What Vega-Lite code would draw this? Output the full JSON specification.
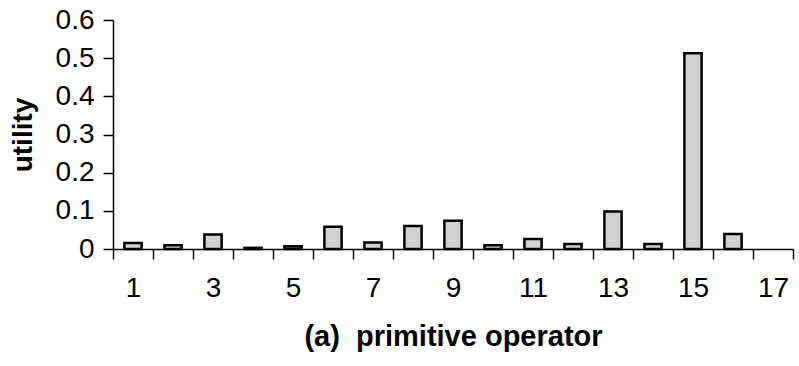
{
  "$schema": "https://vega.github.io/schema/vega-lite/v6.json",
  "autosize": "none",
  "width": 680,
  "height": 229,
  "padding": {"left": 113, "top": 20, "right": 6, "bottom": 117},
  "background": "white",
  "data": {
    "values": [
      {"operator": 1, "utility": 0.016},
      {"operator": 2, "utility": 0.010},
      {"operator": 3, "utility": 0.038},
      {"operator": 4, "utility": 0.003},
      {"operator": 5, "utility": 0.007},
      {"operator": 6, "utility": 0.058},
      {"operator": 7, "utility": 0.017},
      {"operator": 8, "utility": 0.060},
      {"operator": 9, "utility": 0.074},
      {"operator": 10, "utility": 0.010},
      {"operator": 11, "utility": 0.026},
      {"operator": 12, "utility": 0.013},
      {"operator": 13, "utility": 0.098},
      {"operator": 14, "utility": 0.013},
      {"operator": 15, "utility": 0.513},
      {"operator": 16, "utility": 0.039},
      {"operator": 17, "utility": 0}
    ]
  },
  "mark": {"type": "bar", "width": {"band": 0.43}, "fill": "#d2d2d2", "stroke": "black", "strokeWidth": 2.5},
  "encoding": {
    "x": {
      "field": "operator",
      "type": "ordinal",
      "scale": {"paddingInner": 0, "paddingOuter": 0},
      "axis": {
        "title": "(a)\u00a0 primitive operator",
        "labelAngle": 0,
        "tickBand": "extent",
        "labelExpr": "datum.value % 2 == 1 ? datum.label : ''",
        "tickSize": 10,
        "labelPadding": 15,
        "titlePadding": 20,
        "titleFontSize": 29
      }
    },
    "y": {
      "field": "utility",
      "type": "quantitative",
      "scale": {"domain": [0, 0.6], "nice": false},
      "axis": {
        "title": "utility",
        "values": [0, 0.1, 0.2, 0.3, 0.4, 0.5, 0.6],
        "format": ".1~f",
        "grid": false,
        "tickSize": 10,
        "labelPadding": 9,
        "titlePadding": 18
      }
    },
    "strokeOpacity": {"condition": {"test": "datum.utility == 0", "value": 0}, "value": 1}
  },
  "config": {
    "view": {"stroke": null},
    "axis": {
      "domainColor": "black",
      "domainWidth": 1.5,
      "tickColor": "black",
      "tickWidth": 1.5,
      "labelColor": "black",
      "labelFont": "Liberation Sans",
      "labelFontSize": 28,
      "titleColor": "black",
      "titleFont": "Liberation Sans",
      "titleFontSize": 28,
      "titleFontWeight": "bold"
    }
  }
}
